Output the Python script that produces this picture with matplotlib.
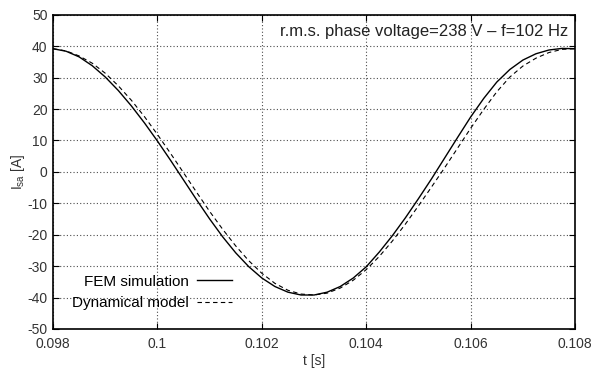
import numpy as np
import matplotlib
matplotlib.use("Agg")
import matplotlib.pyplot as plt

plt.rcParams['font.family'] = ['Liberation Sans', 'DejaVu Sans']
plt.rcParams['mathtext.default'] = 'regular'

# time axis (s)
t = [0.098, 0.09825, 0.0985, 0.09875, 0.099, 0.09925, 0.0995, 0.09975,
     0.1, 0.10025, 0.1005, 0.10075, 0.101, 0.10125, 0.1015, 0.10175,
     0.102, 0.10225, 0.1025, 0.10275, 0.103, 0.10325, 0.1035, 0.10375,
     0.104, 0.10425, 0.1045, 0.10475, 0.105, 0.10525, 0.1055, 0.10575,
     0.106, 0.10625, 0.1065, 0.10675, 0.107, 0.10725, 0.1075, 0.10775, 0.108]

# FEM simulation current (A)
i_fem = [39.2, 38.4, 36.6, 33.8, 30.2, 25.9, 21.0, 15.6,
         9.8, 3.7, -2.6, -8.9, -15.0, -20.7, -25.8, -30.2,
         -33.8, -36.5, -38.3, -39.2, -39.2, -38.3, -36.5, -33.8,
         -30.2, -25.5, -20.3, -14.6, -8.5, -2.2, 4.4, 11.0,
         17.5, 23.4, 28.6, 32.6, 35.6, 37.6, 38.8, 39.3, 39.2]

# Dynamical model current (A)
i_dyn = [39.2, 38.5, 36.9, 34.6, 31.4, 27.4, 22.8, 17.6,
         11.9, 5.9, -0.3, -6.5, -12.6, -18.3, -23.6, -28.3,
         -32.3, -35.5, -37.7, -38.9, -39.2, -38.6, -37.0, -34.5,
         -31.1, -26.9, -22.0, -16.6, -10.8, -4.8, 1.3, 7.6,
         13.9, 19.9, 25.5, 30.2, 33.7, 36.2, 38.0, 39.0, 39.2]

xticks = [0.098, 0.1, 0.102, 0.104, 0.106, 0.108]
xticklabels = ['0.098', '0.1', '0.102', '0.104', '0.106', '0.108']
yticks = [50, 40, 30, 20, 10, 0, -10, -20, -30, -40, -50]

fig = plt.figure(figsize=(5.96, 3.70), dpi=100)
ax = fig.add_axes([0.089, 0.111, 0.876, 0.849])

ax.plot(t, i_fem, color='black', lw=1.0, label='FEM simulation')
ax.plot(t, i_dyn, color='black', lw=0.8, dashes=(4, 3), label='Dynamical model')

ax.set_xlim(0.098, 0.108)
ax.set_ylim(-50, 50)
ax.set_xticks(xticks)
ax.set_xticklabels(xticklabels)
ax.set_yticks(yticks)
ax.set_yticklabels([str(v) for v in yticks])
ax.tick_params(direction='in', top=True, right=True, length=4,
               labelsize=10, colors='black', labelcolor='#333333')
ax.tick_params(axis='x', pad=6)
ax.tick_params(axis='y', pad=4)
ax.grid(True, linestyle=(0, (1, 2)), color='0.3', lw=0.8)
for s in ax.spines.values():
    s.set_linewidth(1.2)

ax.set_xlabel('t [s]', fontsize=10, labelpad=2, color='#333333')
ax.set_ylabel('$I_{sa}$ [A]', fontsize=10, labelpad=0, color='#333333')

ax.text(0.987, 0.972, 'r.m.s. phase voltage=238 V \u2013 f=102 Hz',
        transform=ax.transAxes, ha='right', va='top', fontsize=12,
        color='#222222')

ax.legend(loc='lower left', bbox_to_anchor=(0.025, 0.04), frameon=False,
          markerfirst=False, fontsize=11, handlelength=2.3,
          labelspacing=0.5, handletextpad=0.5, borderaxespad=0)

fig.savefig('out.png', dpi=100)
